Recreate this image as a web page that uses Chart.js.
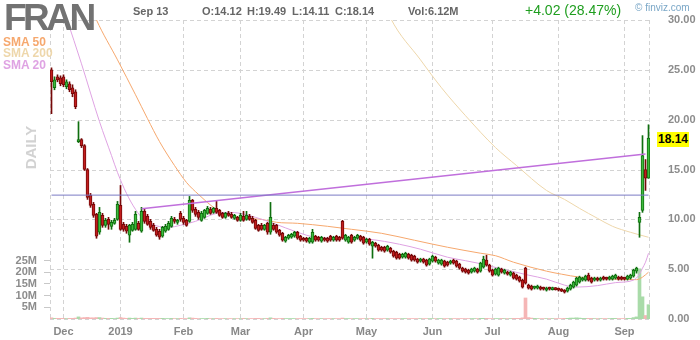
<!DOCTYPE html>
<html>
<head>
<meta charset="utf-8">
<script src="https://cdn.jsdelivr.net/npm/chart.js@4.4.1/dist/chart.umd.min.js"></script>
<style>
  body { margin: 0; background: #fff; }
  #wrap { position: relative; width: 700px; height: 340px; font-family: Arial, "Liberation Sans", sans-serif; }
  #wrap canvas { position: absolute; left: 0; top: 0; }
  .t { position: absolute; white-space: nowrap; line-height: 13px; font-size: 11px; font-weight: bold; color: #666; }
</style>
</head>
<body>
<div id="wrap">
  <canvas id="chart" width="700" height="340"></canvas>
  <div class="t" style="left:4px;top:-2px;font-size:37px;line-height:40px;letter-spacing:-3.5px;color:#727272">FRAN</div>
  <div class="t" style="left:133px;top:5px">Sep 13</div>
  <div class="t" style="left:202px;top:5px">O:14.12</div>
  <div class="t" style="left:247px;top:5px">H:19.49</div>
  <div class="t" style="left:292px;top:5px">L:14.11</div>
  <div class="t" style="left:335px;top:5px">C:18.14</div>
  <div class="t" style="left:408px;top:5px">Vol:6.12M</div>
  <div class="t" style="left:525px;top:2px;font-size:14px;line-height:16px;font-weight:normal;color:#1f9e1f">+4.02 (28.47%)</div>
  <div class="t" style="left:635px;top:2px;font-size:10px;line-height:12px;font-weight:normal;color:#7aa7c7">&copy; finviz.com</div>
  <div class="t" style="left:3px;top:35px;font-size:12px;line-height:14px;color:#f6a86e">SMA 50</div>
  <div class="t" style="left:3px;top:46px;font-size:12px;line-height:14px;color:#eed7ab">SMA 200</div>
  <div class="t" style="left:3px;top:58px;font-size:12px;line-height:14px;color:#dfa3e3">SMA 20</div>
  <div class="t" style="left:8px;top:139px;width:45px;text-align:center;font-size:15px;line-height:17px;color:#d2d2d2;transform:rotate(-90deg)">DAILY</div>
  <div class="t" style="left:657px;top:132px;width:32px;height:15px;line-height:15px;text-align:center;font-size:12px;color:#000;background:#ffff00">18.14</div>
</div>
<script>
const holidays = ["2018-12-05", "2018-12-25", "2019-01-01", "2019-01-21", "2019-02-18", "2019-04-19", "2019-05-27", "2019-07-04", "2019-09-02"];
const MONTHS = ["Jan", "Feb", "Mar", "Apr", "May", "Jun", "Jul", "Aug", "Sep", "Oct", "Nov", "Dec"];

const opens = [
  25.0,23.2,24.3,24.2,24.3,23.3,23.6,23.2,22.8,17.8,
  18.0,17.4,15.0,12.4,11.5,10.5,8.7,10.4,9.4,10.0,
  9.3,9.6,10.0,11.4,9.5,9.3,8.4,8.9,9.0,9.6,
  8.8,10.8,10.3,9.8,9.4,9.0,8.8,8.3,8.8,9.0,
  9.3,9.9,9.7,10.6,10.1,9.9,9.8,11.9,11.0,10.7,
  9.9,10.2,10.6,11.0,10.7,11.1,10.9,10.6,10.2,10.6,
  10.5,10.1,10.2,9.9,10.3,10.0,10.3,10.1,9.9,9.4,
  9.4,9.0,9.6,8.7,9.4,9.4,8.9,8.6,7.8,8.1,
  8.2,8.3,8.7,8.3,8.1,8.1,7.7,7.7,8.3,8.2,
  7.8,8.1,8.1,8.3,7.9,8.3,8.2,9.8,7.9,7.7,
  8.4,7.9,8.1,8.3,8.2,7.7,8.0,7.3,7.6,7.4,
  7.2,7.2,6.9,7.1,6.8,6.7,6.5,6.2,6.2,6.5,
  6.4,6.3,6.0,5.8,6.0,5.9,5.5,5.8,6.2,5.6,
  5.5,5.8,5.7,5.6,5.9,5.8,5.5,5.1,5.0,4.9,
  4.7,4.8,5.0,4.8,5.2,5.9,5.4,4.9,4.5,4.4,
  5.0,4.6,4.7,4.4,4.6,4.4,4.2,3.9,5.1,3.4,
  3.3,3.1,3.1,3.2,3.1,2.9,3.1,2.95,3.1,3.0,
  3.0,2.9,2.8,3.0,3.2,3.4,3.7,3.9,3.9,4.4,
  4.1,3.9,4.1,3.9,4.2,4.1,4.0,4.0,4.1,4.2,
  4.2,4.1,4.0,4.1,4.3,4.8,9.7,10.9,15.0,14.12
];
const highs = [
  25.2,24.3,24.5,24.4,24.5,24.0,23.8,23.5,23.0,19.8,
  18.1,17.5,15.1,12.6,11.7,10.6,11.2,10.6,10.1,10.2,
  9.9,10.1,11.8,13.4,9.7,9.5,9.5,9.7,10.8,9.8,
  11.2,11.0,10.5,10.0,9.6,9.2,9.0,9.3,9.5,9.8,
  10.3,10.2,10.0,10.8,10.3,10.0,12.3,12.0,11.2,10.9,
  10.8,11.0,11.3,11.2,11.2,11.8,11.0,10.7,10.7,10.8,
  10.7,10.5,10.3,10.6,10.8,10.8,10.5,10.3,10.0,9.5,
  9.6,9.5,9.7,11.7,9.6,9.5,9.0,8.7,8.3,8.5,
  8.6,8.8,8.8,8.4,8.2,8.2,8.2,9.0,8.4,8.3,
  8.3,8.2,8.2,8.4,8.3,8.4,8.3,9.9,8.5,8.3,
  8.5,8.3,8.5,8.4,8.3,8.1,8.1,7.8,7.7,7.5,
  7.3,7.3,7.4,7.2,6.9,6.8,6.6,6.6,6.7,6.6,
  6.5,6.4,6.1,6.1,6.1,6.0,6.1,6.4,6.3,6.0,
  6.0,5.9,5.8,5.9,6.0,5.9,5.6,5.2,5.1,5.0,
  5.1,5.2,5.1,5.7,6.3,6.4,5.5,5.0,5.1,5.2,
  5.1,5.0,4.8,4.8,4.7,4.5,4.3,4.0,5.2,3.5,
  3.4,3.3,3.4,3.3,3.2,3.2,3.2,3.2,3.15,3.1,
  3.05,2.95,3.2,3.5,3.8,4.2,4.3,4.2,4.4,4.6,
  4.2,4.2,4.2,4.2,4.3,4.2,4.3,4.4,4.5,4.3,
  4.3,4.2,4.4,4.5,5.0,5.2,10.7,18.4,16.0,19.49
];
const lows = [
  20.6,23.0,23.8,23.4,23.3,23.1,22.8,22.3,21.1,17.7,
  17.2,14.9,12.0,11.2,10.2,8.1,8.5,9.2,9.2,9.0,
  9.0,9.5,9.9,8.9,8.8,8.6,7.7,8.8,8.9,8.9,
  8.7,9.6,9.4,9.0,8.8,8.3,8.0,8.2,8.7,8.9,
  9.2,9.6,9.5,9.8,9.5,9.3,9.7,10.7,10.3,10.0,
  9.8,10.1,10.5,10.5,10.6,10.6,10.3,10.1,10.1,10.3,
  10.1,10.0,9.8,9.8,9.8,9.9,9.9,9.6,9.0,8.8,
  8.9,8.9,8.5,8.5,8.9,8.6,8.3,7.8,7.7,8.0,
  8.1,8.2,8.0,7.8,7.8,7.7,7.6,7.6,7.8,7.8,
  7.7,7.8,7.7,7.8,7.8,7.8,7.8,8.0,7.8,7.6,
  7.6,7.8,8.0,7.8,7.5,7.6,7.4,6.1,7.2,6.8,
  6.8,6.7,6.8,6.6,6.2,6.0,6.0,6.1,6.1,6.0,
  5.8,5.8,5.6,5.7,5.6,5.3,5.4,5.7,5.7,5.5,
  5.4,5.2,5.3,5.5,5.5,5.2,5.0,4.7,4.6,4.5,
  4.6,4.7,4.6,4.7,5.1,5.3,4.7,4.3,4.4,4.3,
  4.6,4.5,4.4,4.3,4.0,3.9,3.7,3.1,3.5,3.0,
  2.9,3.0,3.0,2.9,2.9,2.8,2.9,2.9,2.9,2.8,
  2.75,2.6,2.7,2.9,3.1,3.3,3.6,3.8,3.8,3.8,
  3.6,3.8,3.8,3.8,3.9,3.9,3.9,3.9,4.0,3.9,
  3.9,3.9,3.9,4.0,4.2,4.6,8.2,10.7,12.9,14.11
];
const closes = [
  23.8,24.0,24.0,23.6,23.5,23.8,23.0,22.6,21.3,17.95,
  17.4,15.0,12.2,11.4,10.4,8.3,10.7,9.4,9.9,9.5,
  9.7,9.9,11.5,9.0,9.0,8.8,9.4,9.5,10.5,9.0,
  10.8,9.8,9.5,9.2,8.9,8.4,8.2,9.2,9.3,9.6,
  10.1,9.8,9.9,10.0,9.7,9.4,11.9,10.9,10.5,10.2,
  10.6,10.9,11.1,10.6,11.1,10.7,10.4,10.2,10.6,10.4,
  10.2,10.4,9.9,10.4,9.9,10.4,10.0,9.7,9.1,8.9,
  9.0,9.4,8.7,10.2,9.0,8.7,8.4,7.9,8.2,8.4,
  8.5,8.7,8.1,7.9,7.9,7.8,8.1,8.7,7.9,7.9,
  8.2,7.9,7.8,7.9,8.2,7.9,7.9,8.1,8.4,8.2,
  7.7,8.2,8.4,7.9,7.6,8.0,7.5,7.7,7.3,6.9,
  6.9,6.8,7.3,6.7,6.3,6.1,6.1,6.5,6.6,6.1,
  5.9,5.9,5.7,6.0,5.7,5.4,6.0,6.3,5.8,5.9,
  5.9,5.3,5.4,5.8,5.6,5.3,5.1,4.8,4.7,4.6,
  5.0,5.1,4.7,5.6,6.0,5.4,4.8,4.4,5.0,5.1,
  4.7,4.9,4.5,4.7,4.1,4.0,3.8,3.2,3.6,3.1,
  3.0,3.2,3.3,3.0,3.0,3.1,3.0,3.1,2.95,2.9,
  2.8,2.7,3.1,3.4,3.7,4.1,4.2,4.1,4.3,3.9,
  3.7,4.1,3.9,4.1,4.0,4.0,4.2,4.3,4.4,4.0,
  4.0,4.0,4.3,4.4,4.9,5.1,10.2,16.4,14.12,18.14
];
// volume in millions
const volumes = [
  0.5,0.3,0.3,0.3,0.3,0.2,0.3,0.3,0.4,0.9,
  0.5,0.6,0.7,0.5,0.5,0.6,0.6,0.4,0.3,0.3,
  0.3,0.2,0.4,0.6,0.4,0.3,0.4,0.3,0.4,0.3,
  0.4,0.3,0.3,0.3,0.3,0.3,0.3,0.3,0.2,0.2,
  0.3,0.2,0.2,0.3,0.2,0.2,0.5,0.4,0.3,0.2,
  0.2,0.2,0.3,0.2,0.2,0.3,0.2,0.2,0.2,0.2,
  0.2,0.2,0.2,0.2,0.3,0.2,0.2,0.2,0.3,0.3,
  0.2,0.2,0.3,0.5,0.3,0.2,0.2,0.3,0.2,0.2,
  0.2,0.2,0.2,0.2,0.2,0.2,0.2,0.3,0.2,0.2,
  0.2,0.2,0.2,0.2,0.2,0.2,0.2,0.4,0.2,0.2,
  0.2,0.2,0.2,0.2,0.2,0.2,0.2,0.3,0.2,0.2,
  0.2,0.2,0.2,0.2,0.2,0.2,0.2,0.2,0.2,0.2,
  0.2,0.2,0.2,0.2,0.2,0.2,0.2,0.2,0.2,0.2,
  0.2,0.2,0.2,0.2,0.2,0.2,0.2,0.2,0.2,0.2,
  0.2,0.2,0.2,0.3,0.3,0.3,0.2,0.2,0.2,0.2,
  0.3,0.2,0.2,0.2,0.3,0.3,0.3,0.5,9.0,0.6,
  0.4,0.3,0.2,0.2,0.2,0.2,0.2,0.2,0.2,0.2,
  0.2,0.3,0.3,0.4,0.4,0.5,0.4,0.3,0.3,0.3,
  0.3,0.2,0.2,0.2,0.2,0.2,0.2,0.3,0.3,0.2,
  0.2,0.2,0.3,0.3,0.6,0.9,21.5,9.5,1.5,6.12
];

// moving averages at sample sessions
const sma20Idx = [3, 5, 10, 16, 20, 22, 25, 28, 31, 35, 39, 43, 48, 55, 59, 63, 68, 74, 82, 88, 95, 100, 106, 116, 123, 132, 138, 143, 149, 159, 165, 171, 175, 182, 188, 194, 196, 197, 198, 199];
const sma20Val = [32.0, 30.2, 25.6, 19.8, 16.4, 14.7, 12.6, 11.0, 9.9, 9.35, 9.2, 9.4, 9.8, 10.6, 10.7, 10.6, 10.2, 9.6, 8.7, 8.2, 8.1, 8.1, 8.0, 7.5, 7.0, 6.2, 5.85, 5.55, 5.1, 4.4, 4.0, 3.4, 3.2, 3.35, 3.65, 3.9, 4.5, 5.1, 5.7, 6.6];
const sma50Idx = [13, 15, 22, 28, 32, 36, 41, 45, 49, 55, 62, 70, 75, 82, 92, 100, 110, 121, 132, 143, 148, 154, 165, 170, 176, 187, 195, 197, 199];
const sma50Val = [31.5, 30.0, 26.0, 22.5, 20.1, 17.8, 15.4, 13.7, 12.5, 11.0, 10.2, 10.0, 9.7, 9.6, 9.3, 9.0, 8.6, 7.9, 7.2, 6.6, 6.35, 5.7, 4.8, 4.5, 4.2, 4.0, 3.95, 4.2, 4.7];
const sma200Idx = [110, 113, 123, 130, 138, 148, 155, 165, 171, 176, 182, 187, 193, 199];
const sma200Val = [32.5, 30.2, 26.0, 23.2, 20.4, 17.2, 15.4, 12.9, 12.0, 11.1, 10.1, 9.3, 8.7, 8.2];

// drawn lines: trendline and horizontal level
const trendIdx = [30, 198];
const trendVal = [11.05, 16.55];
const levelIdx = [0, 199];
const levelVal = [12.43, 12.43];

const priceTicks = [0, 5, 10, 15, 20, 25, 30];
const volTicks = [5, 10, 15, 20, 25];

// trading sessions from Nov 27 2018 to Sep 13 2019
const dates = [];
for (let d = new Date(Date.UTC(2018, 10, 27)); d <= new Date(Date.UTC(2019, 8, 13)); d.setUTCDate(d.getUTCDate() + 1)) {
  const wd = d.getUTCDay(), s = d.toISOString().slice(0, 10);
  if (wd > 0 && wd < 6 && !holidays.includes(s)) dates.push(s);
}
const monthStarts = [];
const tickText = dates.map((s, i) => {
  if (i === 0 || s.slice(5, 7) === dates[i - 1].slice(5, 7)) return "";
  monthStarts.push(i);
  const m = +s.slice(5, 7);
  return m === 1 ? s.slice(0, 4) : MONTHS[m - 1];
});

const UP = "#3dba3d", UP_EDGE = "#0f6e0f", DN = "#c21e1e", DN_EDGE = "#760808";
const isUp = closes.map((c, i) => c >= opens[i]);
const pts = (idx, val) => idx.map((k, j) => ({ x: dates[k], y: val[j] }));

const gridPlugin = {
  id: "finvizGrid",
  beforeDatasetsDraw(chart) {
    const { ctx, chartArea: a, scales: { x, y } } = chart;
    ctx.save();
    ctx.strokeStyle = "#d3d3d3";
    ctx.lineWidth = 1;
    ctx.setLineDash([4, 3]);
    ctx.beginPath();
    priceTicks.forEach(v => {
      const py = Math.round(y.getPixelForValue(v)) + 0.5;
      ctx.moveTo(a.left, py); ctx.lineTo(a.right, py);
    });
    const xs = [a.left, ...monthStarts.map(i => x.getPixelForValue(i)), a.right - 1];
    xs.forEach(px => {
      const xx = Math.floor(px) + 0.5;
      ctx.moveTo(xx, a.top); ctx.lineTo(xx, a.bottom);
    });
    ctx.stroke();
    ctx.restore();
  }
};

Chart.defaults.font.family = 'Arial, "Liberation Sans", sans-serif';

new Chart(document.getElementById("chart"), {
  type: "bar",
  data: {
    labels: dates,
    datasets: [
      { type: "line", data: pts(levelIdx, levelVal), borderColor: "#7a7ac4", borderWidth: 1, pointRadius: 0, order: 1, yAxisID: "y" },
      { type: "line", data: pts(trendIdx, trendVal), borderColor: "#c06fdc", borderWidth: 1.5, pointRadius: 0, order: 1, yAxisID: "y" },
      { data: opens.map((o, i) => [Math.min(o, closes[i]), Math.max(o, closes[i])]), backgroundColor: isUp.map(u => u ? UP : DN), borderColor: isUp.map(u => u ? UP_EDGE : DN_EDGE), borderWidth: 1, borderSkipped: false, barThickness: 3, minBarLength: 2, grouped: false, order: 2, yAxisID: "y" },
      { data: lows.map((l, i) => [l, highs[i]]), backgroundColor: isUp.map(u => u ? UP_EDGE : DN_EDGE), barThickness: 1, grouped: false, order: 3, yAxisID: "y" },
      { type: "line", data: pts(sma20Idx, sma20Val), borderColor: "#dfa3e3", borderWidth: 1, pointRadius: 0, cubicInterpolationMode: "monotone", order: 5, yAxisID: "y" },
      { type: "line", data: pts(sma50Idx, sma50Val), borderColor: "#f6a86e", borderWidth: 1, pointRadius: 0, cubicInterpolationMode: "monotone", order: 6, yAxisID: "y" },
      { type: "line", data: pts(sma200Idx, sma200Val), borderColor: "#eed7ab", borderWidth: 1, pointRadius: 0, cubicInterpolationMode: "monotone", order: 7, yAxisID: "y" },
      { data: volumes, backgroundColor: isUp.map(u => u ? "#a9dba9" : "#f5b6b6"), barThickness: 3, grouped: false, order: 10, yAxisID: "yv" }
    ]
  },
  options: {
    responsive: false,
    animation: false,
    layout: { padding: { top: 20 } },
    plugins: { legend: { display: false }, tooltip: { enabled: false } },
    scales: {
      x: {
        grid: { display: false },
        border: { display: false },
        ticks: { autoSkip: false, maxRotation: 0, padding: -2, color: "#888", font: { size: 11, weight: "bold" }, callback: (v, i) => tickText[i] },
        afterFit: s => { s.height = 21; }
      },
      y: {
        position: "right",
        min: 0, max: 30,
        grid: { display: false },
        border: { display: false },
        ticks: { stepSize: 5, padding: 10, color: "#8c8c8c", font: { size: 11, weight: "bold" }, callback: v => v.toFixed(2) },
        afterFit: s => { s.width = 50; }
      },
      yv: {
        position: "left",
        min: 0, max: 128,
        grid: { drawOnChartArea: false, drawTicks: true, tickLength: 6, color: "#c8c8c8" },
        border: { display: false },
        ticks: { padding: 7, color: "#8c8c8c", font: { size: 11, weight: "bold" }, callback: v => v + "M" },
        afterBuildTicks: s => { s.ticks = volTicks.map(v => ({ value: v })); },
        afterFit: s => { s.width = 50; }
      }
    }
  },
  plugins: [gridPlugin]
});
</script>
</body>
</html>
